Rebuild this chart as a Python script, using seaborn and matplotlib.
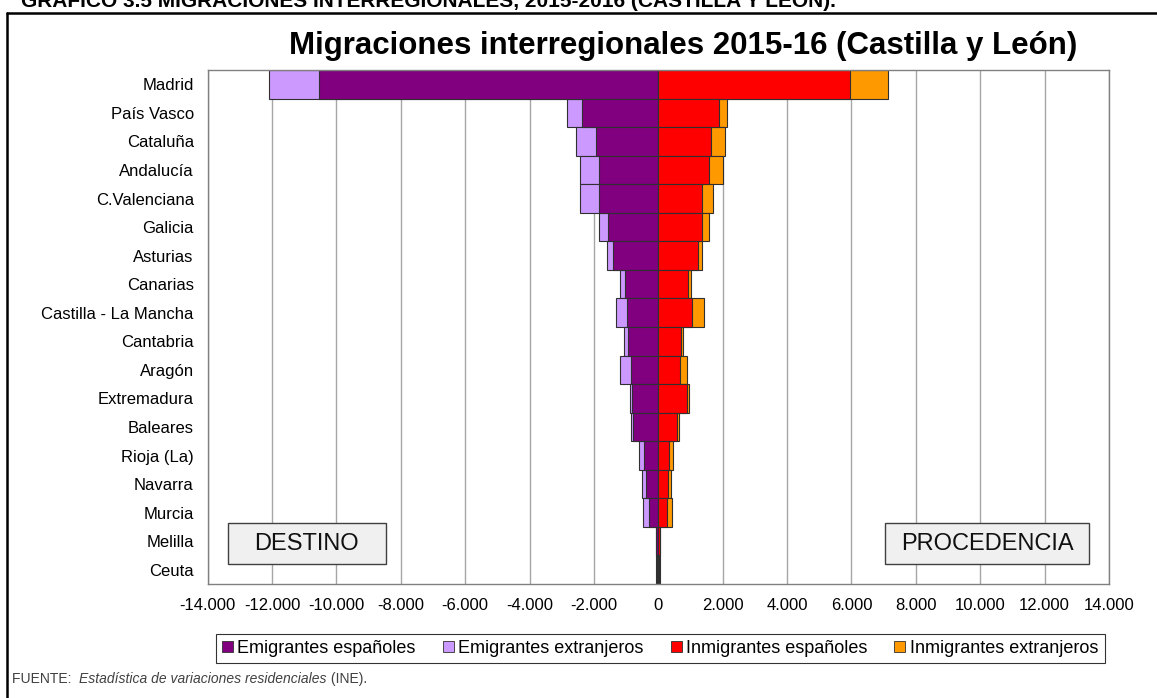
import matplotlib
matplotlib.use("Agg")
import matplotlib.pyplot as plt
import pandas as pd
import seaborn as sns
from matplotlib.lines import Line2D
from matplotlib.patches import Patch, Rectangle
from matplotlib.ticker import FuncFormatter, MultipleLocator

# datos (personas)
regiones = ["Madrid", "País Vasco", "Cataluña", "Andalucía", "C.Valenciana",
            "Galicia", "Asturias", "Canarias", "Castilla - La Mancha", "Cantabria",
            "Aragón", "Extremadura", "Baleares", "Rioja (La)", "Navarra",
            "Murcia", "Melilla", "Ceuta"]
emig_esp = [10540, 2370, 1940, 1850, 1850, 1565, 1410, 1037, 975, 932,
            860, 808, 800, 440, 397, 290, 60, 55]
emig_ext = [1560, 460, 610, 570, 570, 280, 190, 163, 330, 124,
            320, 82, 60, 165, 108, 195, 10, 5]
inmig_esp = [5955, 1890, 1635, 1570, 1345, 1345, 1220, 912, 1055, 705,
             673, 880, 570, 320, 290, 270, 40, 35]
inmig_ext = [1165, 230, 435, 430, 360, 225, 145, 103, 375, 70,
             207, 80, 70, 125, 105, 140, 5, 5]

series = ["Emigrantes españoles", "Emigrantes extranjeros",
          "Inmigrantes españoles", "Inmigrantes extranjeros"]
colores = ["#800080", "#CC99FF", "#FF0000", "#FF9900"]

sns.set_style("white")
plt.rcParams["font.family"] = ["Liberation Sans", "DejaVu Sans"]
plt.rcParams["text.color"] = "black"
plt.rcParams["xtick.color"] = "black"
plt.rcParams["ytick.color"] = "black"

df = pd.DataFrame({"region": regiones, "emig_esp": emig_esp, "emig_ext": emig_ext,
                   "inmig_esp": inmig_esp, "inmig_ext": inmig_ext})
df["emig_total"] = -(df["emig_esp"] + df["emig_ext"])
df["emig_esp_neg"] = -df["emig_esp"]
df["inmig_total"] = df["inmig_esp"] + df["inmig_ext"]

fig = plt.figure(figsize=(11.57, 6.98), dpi=100)
ax = fig.add_axes([0.1795, 0.1633, 0.779, 0.7364])

kw = dict(y="region", orient="h", width=1.0, saturation=1, errorbar=None,
          edgecolor="#303030", linewidth=0.8, ax=ax)
# barras apiladas: primero el total, luego la parte interior encima
sns.barplot(data=df, x="emig_total", color=colores[1], **kw)
sns.barplot(data=df, x="emig_esp_neg", color=colores[0], **kw)
sns.barplot(data=df, x="inmig_total", color=colores[3], **kw)
sns.barplot(data=df, x="inmig_esp", color=colores[2], **kw)

ax.set_xlim(-14000, 14000)
ax.xaxis.set_major_locator(MultipleLocator(2000))
ax.xaxis.set_major_formatter(FuncFormatter(lambda v, p: f"{v:,.0f}".replace(",", ".")))
ax.set_xlabel("")
ax.set_ylabel("")
ax.xaxis.grid(True, color="#A6A6A6", linewidth=1)
ax.set_axisbelow(True)
ax.tick_params(axis="x", length=0, pad=10, labelsize=12)
ax.tick_params(axis="y", length=0, pad=10, labelsize=12)
for s in ax.spines.values():
    s.set_visible(True)
    s.set_color("#808080")
    s.set_linewidth(1)

# cajas DESTINO / PROCEDENCIA
for x0, w, txt in [(0.022, 0.176, "DESTINO"), (0.752, 0.226, "PROCEDENCIA")]:
    ax.add_patch(Rectangle((x0, 0.039), w, 0.08, transform=ax.transAxes,
                           facecolor="#F0F0F0", edgecolor="#404040", lw=1, zorder=5))
    ax.text(x0 + w / 2, 0.078, txt, transform=ax.transAxes, ha="center", va="center",
            fontsize=17, color="#111111", zorder=6)

handles = [Patch(facecolor=c, edgecolor="#303030", linewidth=0.6) for c in colores]
leg = ax.legend(handles, series, loc="center", bbox_to_anchor=(0.502, -0.1255), ncol=4,
                frameon=True, fancybox=False, edgecolor="black", handlelength=0.6,
                handleheight=0.6, handletextpad=0.25, columnspacing=1.5,
                borderpad=0.35, fontsize=13)
leg.get_frame().set_linewidth(0.8)

fig.text(0.5908, 0.934, "Migraciones interregionales 2015-16 (Castilla y León)",
         ha="center", va="center", fontsize=22.5, fontweight="bold")
fig.text(0.018, 1 - 7 / 698, "GRÁFICO 3.5 MIGRACIONES INTERREGIONALES, 2015-2016 (CASTILLA Y LEÓN).",
         ha="left", va="baseline", fontsize=15, fontweight="bold")

# marco
fig.add_artist(Line2D([7 / 1157, 7 / 1157], [0, 1 - 13 / 698], color="black", lw=1.8))
fig.add_artist(Line2D([7 / 1157, 1], [1 - 13 / 698, 1 - 13 / 698], color="black", lw=1.8))

t1 = fig.text(12 / 1157, 1 - 679 / 698, "FUENTE:  ", ha="left", va="center",
              fontsize=10, color="#404040")
t2 = ax.annotate("Estadística de variaciones residenciales", xy=(1, 0), xycoords=t1,
                 ha="left", va="bottom", fontsize=10, style="italic", color="#404040",
                 annotation_clip=False)
ax.annotate(" (INE).", xy=(1, 0), xycoords=t2, ha="left", va="bottom", fontsize=10,
            color="#404040", annotation_clip=False)

fig.savefig("out.png", dpi=100)
